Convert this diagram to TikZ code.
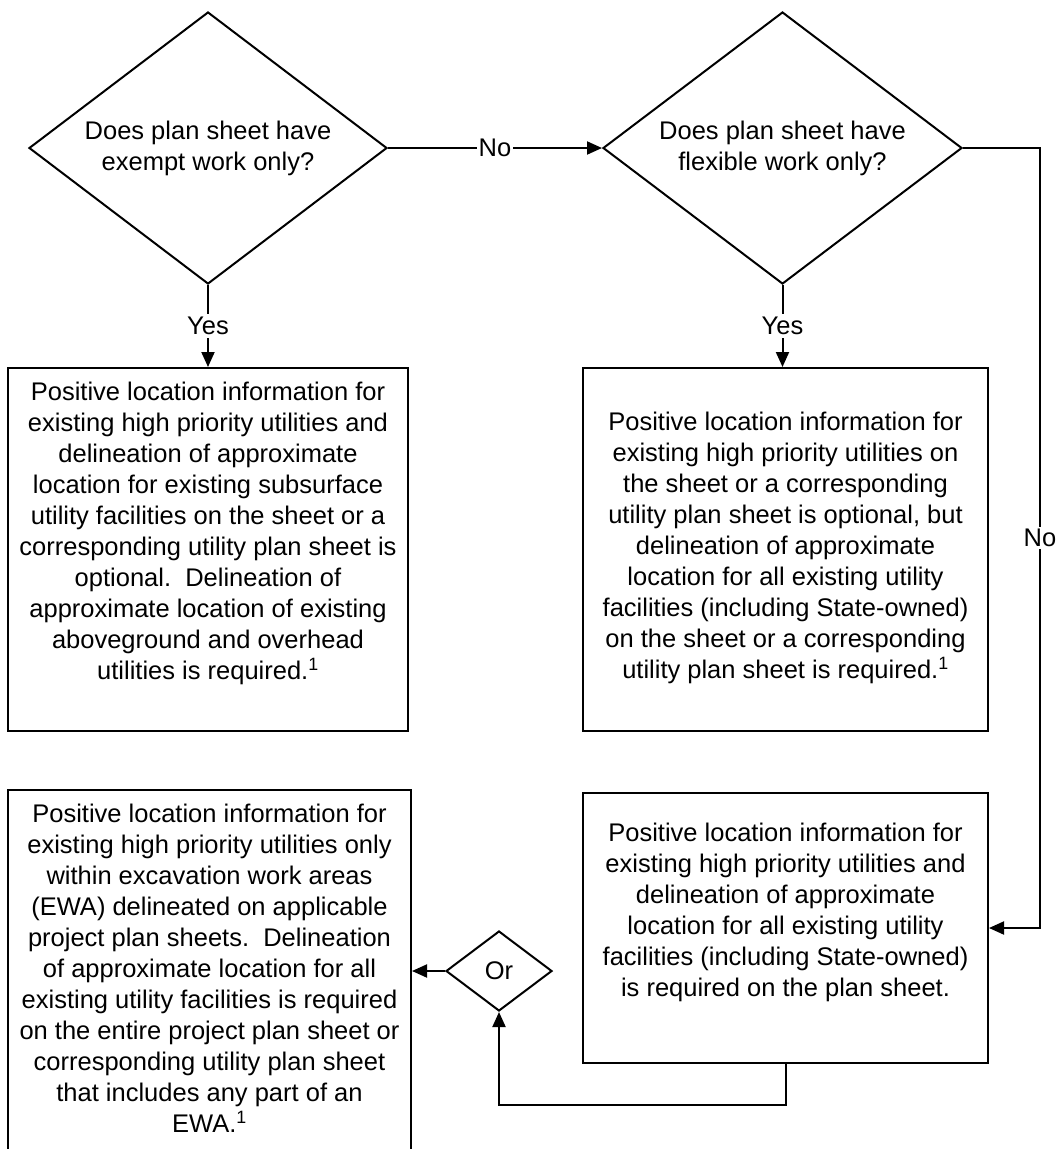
\documentclass[tikz,border=0pt]{standalone}
\usepackage{fontspec}
\setmainfont{Liberation Sans}
\usetikzlibrary{arrows.meta,shapes.geometric}
\begin{document}
\begin{tikzpicture}[x=1pt,y=-1pt,line width=2pt,
  every node/.style={font=\fontsize{25.5}{31}\selectfont},
  decision/.style={draw,diamond,aspect=1.3,inner sep=0pt,align=center},
  boxnode/.style={draw,rectangle,inner sep=0pt},
  boxtext/.style={align=center,inner sep=0pt},
  lab/.style={fill=white,inner sep=3pt},
  arr/.style={-{Triangle[length=15pt,width=13pt]}}]
\useasboundingbox (0,0) rectangle (1058,1149);
\clip (0,0) rectangle (1058,1149);
% decisions
\node[decision,minimum width=358pt,minimum height=272pt] (d1) at (208,148)
  {Does plan sheet have\\exempt work only?};
\node[decision,minimum width=359pt,minimum height=272pt] (d2) at (782.5,148)
  {Does plan sheet have\\flexible work only?};
\node[decision,minimum width=106pt,minimum height=80pt] (orr) at (499,971) {Or};
% boxes
\node[boxnode,minimum width=400pt,minimum height=363pt] (b1) at (208,549.5) {};
\node[boxnode,minimum width=405pt,minimum height=363pt] (b2) at (785.5,549.5) {};
\node[boxnode,minimum width=405pt,minimum height=270pt] (b3) at (785.5,928) {};
\node[boxnode,minimum width=403pt,minimum height=390pt] (b4) at (209.5,985) {};
% texts
\node[boxtext] (t1) at (208,533) {Positive location information for\\
existing high priority utilities and\\
delineation of approximate\\
location for existing subsurface\\
utility facilities on the sheet or a\\
corresponding utility plan sheet is\\
optional.\ \ Delineation of\\
approximate location of existing\\
aboveground and overhead\\
utilities is required.\textsuperscript{1}};
\node[boxtext] (t2) at (785.5,548) {Positive location information for\\
existing high priority utilities on\\
the sheet or a corresponding\\
utility plan sheet is optional, but\\
delineation of approximate\\
location for all existing utility\\
facilities (including State-owned)\\
on the sheet or a corresponding\\
utility plan sheet is required.\textsuperscript{1}};
\node[boxtext] (t3) at (785.5,912) {Positive location information for\\
existing high priority utilities and\\
delineation of approximate\\
location for all existing utility\\
facilities (including State-owned)\\
is required on the plan sheet.};
\node[boxtext] (t4) at (209.5,968) {Positive location information for\\
existing high priority utilities only\\
within excavation work areas\\
(EWA) delineated on applicable\\
project plan sheets.\ \ Delineation\\
of approximate location for all\\
existing utility facilities is required\\
on the entire project plan sheet or\\
corresponding utility plan sheet\\
that includes any part of an\\
EWA.\textsuperscript{1}};
% connectors
\draw[arr] (d1.east) -- node[lab,inner sep=2pt]{No} (d2.west);
\draw[arr] (d1.south) -- node[lab]{Yes} (d1.south |- b1.north);
\draw[arr] (d2.south) -- node[lab]{Yes} (d2.south |- b2.north);
\coordinate (rc) at (1040,148);
\draw[arr] (d2.east) -- (rc) -- node[lab,inner sep=2pt]{No} (rc |- b3.east) -- (b3.east);
\coordinate (bc) at (785.5,1105);
\draw[arr] (b3.south) -- (bc) -| (orr.south);
\draw[arr] (orr.west) -- (orr.west -| b4.east);
\end{tikzpicture}
\end{document}
